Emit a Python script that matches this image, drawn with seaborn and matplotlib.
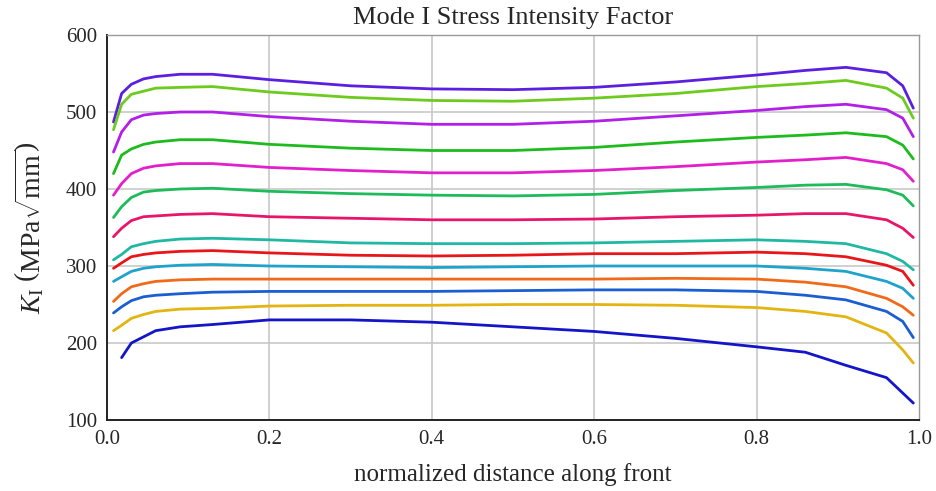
import numpy as np
import pandas as pd
import matplotlib
matplotlib.use("Agg")
import matplotlib.pyplot as plt
from matplotlib.ticker import MultipleLocator
import seaborn as sns

# normalized distance along the crack front
x_pos = [0.008, 0.018, 0.03, 0.045, 0.06, 0.09, 0.13, 0.2, 0.3, 0.4, 0.5,
         0.6, 0.7, 0.8, 0.86, 0.91, 0.96, 0.98, 0.993]

# K_I curves, top to bottom
k01 = [487, 524, 536, 543, 546, 549, 549, 542, 534, 530, 529, 532, 539, 548, 554, 558, 551, 534, 505]
k02 = [477, 510, 523, 527, 531, 532, 533, 526, 519, 515, 514, 518, 524, 533, 537, 541, 531, 518, 492]
k03 = [448, 474, 490, 496, 498, 500, 500, 494, 488, 484, 484, 488, 495, 502, 507, 510, 503, 492, 468]
k04 = [420, 444, 452, 458, 461, 464, 464, 458, 453, 450, 450, 454, 461, 467, 470, 473, 468, 457, 439]
k05 = [392, 407, 420, 427, 430, 433, 433, 428, 424, 421, 421, 424, 429, 435, 438, 441, 433, 425, 410]
k06 = [363, 377, 389, 396, 398, 400, 401, 397, 394, 392, 391, 393, 398, 402, 405, 406, 399, 392, 378]
k07 = [338, 349, 359, 364, 365, 367, 368, 364, 362, 360, 360, 361, 364, 366, 368, 368, 360, 349, 337]
k08 = [308, 315, 325, 329, 332, 335, 336, 334, 330, 329, 329, 330, 332, 334, 332, 329, 316, 306, 295]
k09 = [297, 304, 312, 315, 317, 319, 320, 317, 314, 313, 314, 316, 316, 318, 316, 312, 301, 293, 275]
k10 = [280, 286, 293, 297, 299, 301, 302, 300, 299, 298, 299, 300, 300, 300, 297, 293, 280, 271, 258]
k11 = [254, 264, 273, 277, 280, 282, 283, 283, 283, 283, 283, 283, 284, 283, 279, 273, 258, 247, 236]
k12 = [239, 247, 255, 260, 262, 264, 266, 267, 267, 267, 268, 269, 269, 267, 262, 256, 241, 228, 207]
k13 = [216, 223, 232, 237, 241, 244, 245, 248, 249, 249, 250, 250, 249, 246, 241, 234, 213, 191, 174]
k14 = [np.nan, 181, 200, 208, 216, 221, 224, 230, 230, 227, 221, 215, 206, 195, 188, 171, 155, 135, 122]

curves = [k01, k02, k03, k04, k05, k06, k07, k08, k09, k10, k11, k12, k13, k14]
colors = ["#5B1FE0", "#6CCB1E", "#B21FE6", "#1DBB1D", "#E21FCB", "#1EBB5A",
          "#E8166A", "#1FB8A3", "#E8161A", "#1EA3CC", "#F06A1A", "#1A5ED2",
          "#E2B512", "#1414C8"]

x_ticks = [0.0, 0.2, 0.4, 0.6, 0.8, 1.0]
x_tick_labels = ["0.0", "0.2", "0.4", "0.6", "0.8", "1.0"]
y_ticks = [100, 200, 300, 400, 500, 600]
y_tick_labels = ["100", "200", "300", "400", "500", "600"]

rows = []
for i, ys in enumerate(curves):
    for xv, yv in zip(x_pos, ys):
        rows.append({"x": xv, "K": yv, "curve": f"c{i:02d}"})
df = pd.DataFrame(rows).dropna()

sns.set_style("white")
plt.rcParams["font.family"] = ["Liberation Serif", "DejaVu Serif"]
plt.rcParams["mathtext.fontset"] = "custom"
plt.rcParams["mathtext.rm"] = "Liberation Serif"
plt.rcParams["mathtext.it"] = "Liberation Serif:italic"
plt.rcParams["mathtext.bf"] = "Liberation Serif:bold"

fig = plt.figure(figsize=(9.36, 4.91), dpi=100)
ax = fig.add_axes([107 / 936, 1 - 420 / 491, (919 - 107) / 936, (420 - 35) / 491])

sns.lineplot(data=df, x="x", y="K", hue="curve", palette=colors,
             estimator=None, sort=False, linewidth=2.0, legend=False, ax=ax)

ax.set_xlim(0, 1.0)
ax.set_ylim(100, 600)
ax.set_xticks(x_ticks)
ax.set_xticklabels(x_tick_labels)
ax.set_yticks(y_ticks)
ax.set_yticklabels(y_tick_labels)
ax.xaxis.set_minor_locator(MultipleLocator(0.05))
ax.yaxis.set_minor_locator(MultipleLocator(20))

for v in [0.2, 0.4, 0.6, 0.8]:
    ax.axvline(v, color="#c8c8c8", lw=1.2, zorder=0)
for v in [200, 300, 400, 500]:
    ax.axhline(v, color="#c8c8c8", lw=1.2, zorder=0)

ax.tick_params(axis="both", which="both", direction="in", top=False, right=False,
               labelsize=15, color="#222222")
ax.tick_params(axis="both", which="major", length=5, width=1.0, pad=7)
ax.tick_params(axis="both", which="minor", length=4, width=1.0)

for s in ["left", "bottom"]:
    ax.spines[s].set_color("#222222")
    ax.spines[s].set_linewidth(1.4)
for s in ["top", "right"]:
    ax.spines[s].set_color("#999999")
    ax.spines[s].set_linewidth(1.0)

ax.set_title("Mode I Stress Intensity Factor", fontsize=19, pad=8)
ax.set_xlabel("normalized distance along front", fontsize=18, labelpad=10)
ax.set_ylabel(r"$K_{\mathrm{I}}\ \left(\mathrm{MPa}\sqrt{\mathrm{mm}}\right)$",
              fontsize=20, labelpad=14)

fig.savefig("out.png", dpi=100)
